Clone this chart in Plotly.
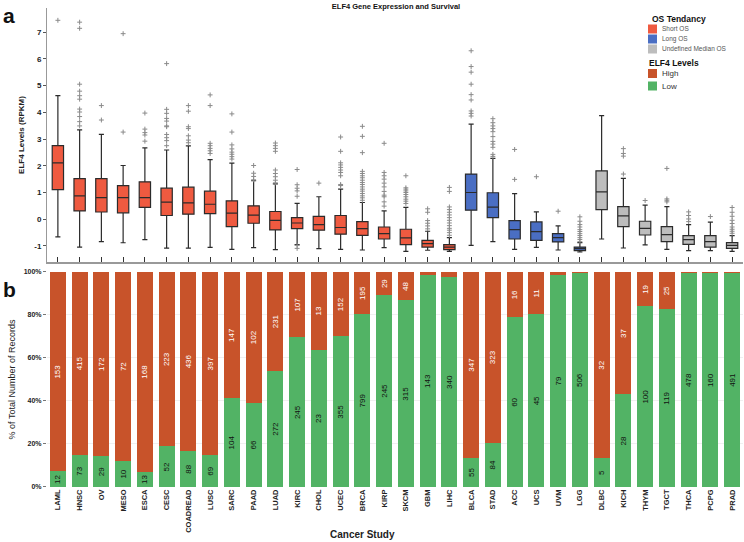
import plotly.graph_objects as go

categories = ["LAML", "HNSC", "OV", "MESO", "ESCA", "CESC", "COADREAD", "LUSC", "SARC", "PAAD",
              "LUAD", "KIRC", "CHOL", "UCEC", "BRCA", "KIRP", "SKCM", "GBM", "LIHC", "BLCA",
              "STAD", "ACC", "UCS", "UVM", "LGG", "DLBC", "KICH", "THYM", "TGCT", "THCA",
              "PCPG", "PRAD"]
os_group = ["Short OS"] * 19 + ["Long OS"] * 6 + ["Undefined Median OS"] * 7

lower_fence = [-0.66, -1.04, -0.84, -0.88, -0.76, -1.08, -1.08, -1.05, -1.125, -1.06,
               -1.14, -0.95, -1.1, -1.125, -1.15, -1.06, -1.2, -1.16, -1.2, -0.975,
               -0.84, -1.125, -1.05, -1.15, -1.225, -0.74, -1.075, -0.96, -1.125, -1.175,
               -1.175, -1.2]
q1 = [1.11, 0.31, 0.27, 0.24, 0.44, 0.14, 0.19, 0.21, -0.275, -0.15,
      -0.4, -0.35, -0.41, -0.56, -0.6, -0.74, -0.95, -1.04, -1.14, 0.34,
      0.06, -0.74, -0.79, -0.85, -1.175, 0.36, -0.275, -0.59, -0.84, -0.94,
      -1.04, -1.09]
median = [2.11, 0.875, 0.81, 0.81, 0.81, 0.64, 0.61, 0.56, 0.225, 0.15,
          -0.04, -0.14, -0.2, -0.31, -0.35, -0.54, -0.7, -0.91, -1.04, 1.0,
          0.45, -0.39, -0.46, -0.69, -1.1, 1.025, 0.125, -0.34, -0.575, -0.76,
          -0.84, -0.975]
q3 = [2.75, 1.52, 1.52, 1.26, 1.40, 1.16, 1.20, 1.05, 0.69, 0.5,
      0.29, 0.06, 0.11, 0.14, -0.09, -0.29, -0.375, -0.79, -0.95, 1.69,
      0.99, -0.05, -0.1, -0.54, -1.04, 1.81, 0.475, -0.075, -0.275, -0.61,
      -0.61, -0.875]
upper_fence = [4.62, 3.34, 3.17, 2.01, 2.67, 2.59, 2.74, 2.23, 2.1, 1.44,
               1.325, 0.59, 0.84, 1.125, 0.625, 0.31, 0.44, -0.45, -0.69, 3.56,
               2.275, 0.96, 0.275, -0.25, -0.875, 3.875, 1.525, 0.525, 0.475, -0.2,
               -0.11, -0.61]
outliers = [
    [7.44],
    [7.37, 7.14, 5.05, 4.79, 4.62, 4.49, 4.12, 4.01, 3.84, 3.65, 3.49],
    [4.25, 3.71],
    [6.94, 3.26],
    [3.97, 3.37, 3.24, 3.15, 2.92],
    [5.82, 4.11, 3.96, 3.77, 3.67, 3.49, 3.46, 3.17, 3.05, 2.94, 2.75],
    [4.25, 4.04, 3.46, 3.39, 3.12, 2.96, 2.86],
    [4.65, 4.25, 2.84, 2.75, 2.65, 2.56, 2.46],
    [3.94, 3.26, 2.78, 2.63, 2.51, 2.43, 2.34, 2.25],
    [2.01, 1.72, 1.6, 1.475],
    [2.85, 2.75, 2.65, 2.54, 1.84, 1.71, 1.59, 1.46, 1.36],
    [1.86, 1.29, 1.16, 1.06, 0.86, -0.975, -1.09],
    [1.35],
    [3.075, 2.54, 2.11, 2.03, 1.94, 1.84, 1.75, 1.625, 1.3, 1.26],
    [3.475, 3.1, 2.49, 1.79, 1.71, 1.625, 1.55, 1.46, 1.375, 1.3, 1.21, 1.125, 1.05, 0.96, 0.875, 0.8, 0.71],
    [2.84, 1.75, 1.625, 1.5, 1.35, 1.21, 1.04, 0.9, 0.84, 0.65, 0.49],
    [1.625, 1.175, 1.125, 1.06, 1.0, 0.925, 0.84, 0.75, 0.675, 0.59],
    [0.39, 0.26, -0.05, -0.15, -0.25, -0.36],
    [1.19, 1.04, 0.46, 0.36, 0.26, 0.16, 0.06, -0.04, -0.14, -0.24, -0.34, -0.41, -0.5, -0.6],
    [6.3, 5.71, 5.5, 5.05, 4.66, 4.46, 4.05, 3.96, 3.86],
    [3.76, 3.61, 3.49, 3.39, 3.275, 3.09, 2.91, 2.81, 2.69, 2.425, 2.35],
    [2.61, 1.49],
    [1.59],
    [0.3],
    [0.09, -0.075, -0.2, -0.29, -0.39, -0.46, -0.54, -0.61, -0.69, -0.76, -0.84],
    [],
    [2.64, 2.46, 2.36, 1.69],
    [0.7],
    [1.9, 0.76, 0.71, 0.65],
    [0.275, 0.14, 0.01, -0.09],
    [0.1],
    [0.44, 0.26, 0.11, -0.04, -0.16, -0.29, -0.375, -0.45, -0.525],
]

high_counts = [153, 415, 172, 72, 168, 223, 436, 397, 147, 102, 231, 107, 13, 152, 195, 29,
               48, 2, 8, 347, 323, 16, 11, 1, 3, 32, 37, 19, 25, 2, 1, 2]
low_counts = [12, 73, 29, 10, 13, 52, 88, 69, 104, 66, 272, 245, 23, 355, 799, 245,
              315, 143, 340, 55, 84, 60, 45, 79, 506, 5, 28, 100, 119, 478, 160, 491]

y_ticks_a = [-1, 0, 1, 2, 3, 4, 5, 6, 7]
y_ticks_b = [0, 20, 40, 60, 80, 100]

group_colors = {"Short OS": "#EF5A40", "Long OS": "#4A6EC3", "Undefined Median OS": "#BDBDBD"}
level_colors = {"High": "#C8532A", "Low": "#52B365"}
FONT = "Liberation Sans, Arial, sans-serif"

fig = go.Figure()

# Box plots (panel a)
for g in ["Short OS", "Long OS", "Undefined Median OS"]:
    idx = [i for i, v in enumerate(os_group) if v == g]
    fig.add_trace(go.Box(
        x=[categories[i] for i in idx],
        q1=[q1[i] for i in idx], median=[median[i] for i in idx], q3=[q3[i] for i in idx],
        lowerfence=[lower_fence[i] for i in idx], upperfence=[upper_fence[i] for i in idx],
        boxpoints=False, fillcolor=group_colors[g], line=dict(color="#2b2b2b", width=1.2),
        width=0.52, whiskerwidth=0.45, showlegend=False, hoverinfo="skip",
        xaxis="x", yaxis="y"))

ox, oy = [], []
for c, vals in zip(categories, outliers):
    for v in vals:
        ox.append(c)
        oy.append(v)
fig.add_trace(go.Scatter(x=ox, y=oy, mode="markers", showlegend=False, hoverinfo="skip",
                         marker=dict(symbol="cross-thin", size=3.5, line=dict(color="#8a8a8a", width=1)),
                         xaxis="x", yaxis="y"))

# Stacked percentage bars (panel b)
def labels(own, other):
    return [str(a) if a / (a + b) >= 0.04 else "" for a, b in zip(own, other)]

fig.add_trace(go.Bar(x=categories, y=low_counts, name="Low", showlegend=False,
                     marker=dict(color=level_colors["Low"], line=dict(width=0)),
                     text=labels(low_counts, high_counts), textposition="inside", insidetextanchor="middle",
                     textangle=-90, textfont=dict(size=8, color="#111", family=FONT),
                     xaxis="x2", yaxis="y2", hoverinfo="skip"))
fig.add_trace(go.Bar(x=categories, y=high_counts, name="High", showlegend=False,
                     marker=dict(color=level_colors["High"], line=dict(width=0)),
                     text=labels(high_counts, low_counts), textposition="inside", insidetextanchor="middle",
                     textangle=-90, textfont=dict(size=8, color="white", family=FONT),
                     xaxis="x2", yaxis="y2", hoverinfo="skip"))

# Manual legend (paper coordinates; plot area is 696 x 479 px, origin at px (47, 487))
def px_x(p):
    return (p - 47) / 696.0


def px_y(p):
    return (487 - p) / 479.0


shapes = []
annotations = []
legend_items = [
    ("OS Tendancy", None, 19, 8.5, None),
    ("Short OS", group_colors["Short OS"], 29, 6.5, "#555"),
    ("Long OS", group_colors["Long OS"], 39, 6.5, "#555"),
    ("Undefined Median OS", group_colors["Undefined Median OS"], 49, 6.5, "#555"),
    ("ELF4 Levels", None, 63, 8.5, None),
    ("High", level_colors["High"], 73.5, 8, "#333"),
    ("Low", level_colors["Low"], 86, 8, "#333"),
]
for text, color, cy, fs, fc in legend_items:
    if color is None:
        annotations.append(dict(text="<b>" + text + "</b>", xref="paper", yref="paper",
                                x=px_x(650 if text == "OS Tendancy" else 647), y=px_y(cy),
                                xanchor="left", yanchor="middle", showarrow=False,
                                font=dict(size=fs, color="#111")))
    else:
        shapes.append(dict(type="rect", xref="paper", yref="paper",
                           x0=px_x(648), x1=px_x(657), y0=px_y(cy + 4.5), y1=px_y(cy - 4.5),
                           fillcolor=color, line=dict(width=0)))
        annotations.append(dict(text=text, xref="paper", yref="paper", x=px_x(660), y=px_y(cy),
                                xanchor="left", yanchor="middle", showarrow=False,
                                font=dict(size=fs, color=fc)))

annotations += [
    dict(text="<b>a</b>", xref="paper", yref="paper", x=px_x(9), y=px_y(16), xanchor="center", yanchor="middle",
         showarrow=False, font=dict(size=21, color="#111")),
    dict(text="<b>b</b>", xref="paper", yref="paper", x=px_x(9), y=px_y(289), xanchor="center", yanchor="middle",
         showarrow=False, font=dict(size=21, color="#111")),
    dict(text="<b>Cancer Study</b>", xref="paper", yref="paper", x=px_x(362), y=px_y(534),
         xanchor="center", yanchor="middle", showarrow=False, font=dict(size=10, color="#222")),
]

fig.update_layout(
    width=744, height=542,
    margin=dict(l=47, r=1, t=8, b=55),
    paper_bgcolor="white", plot_bgcolor="white",
    font=dict(family=FONT, size=8, color="#222"),
    boxmode="overlay", barmode="stack", barnorm="percent", bargap=0.26,
    showlegend=False,
    title=dict(text="<b>ELF4 Gene Expression and Survival</b>", x=396 / 744.0,
               xanchor="center", y=0.993, yanchor="top", font=dict(size=7.5, color="#111")),
    xaxis=dict(domain=[0, 1], anchor="y", type="category", categoryorder="array", categoryarray=categories,
               range=[-0.5, 31.5], showticklabels=False, ticks="inside", ticklen=5, tickcolor="#333",
               showline=True, linecolor="#999", linewidth=2, showgrid=False, zeroline=False),
    yaxis=dict(domain=[0.4697, 1], anchor="x", range=[-1.6, 7.9], tickvals=y_ticks_a,
               ticktext=["<b>%d</b>" % v for v in y_ticks_a],
               ticks="outside", ticklen=3, tickcolor="#555", showline=True, linecolor="#999", linewidth=1,
               showgrid=False, zeroline=False, tickfont=dict(size=8, color="#222"),
               title=dict(text="<b>ELF4 Levels (RPKM)</b>", font=dict(size=8, color="#222"), standoff=8)),
    xaxis2=dict(domain=[0, 1], anchor="y2", type="category", categoryorder="array", categoryarray=categories,
                range=[-0.5, 31.5], tickangle=-90, ticks="", showline=False, showgrid=False,
                tickvals=categories, ticktext=["<b>%s</b>" % c for c in categories],
                tickfont=dict(size=7.5, color="#222")),
    yaxis2=dict(domain=[0, 0.4489], anchor="x2", range=[0, 100], tickvals=y_ticks_b,
                ticktext=["<b>%d%%</b>" % v for v in y_ticks_b],
                ticks="outside", ticklen=3, tickcolor="#777", showline=False, showgrid=True,
                gridcolor="#f0f0f0", zeroline=False, tickfont=dict(size=7, color="#222"),
                title=dict(text="% of Total Number of Records", font=dict(size=9, color="#222"), standoff=6)),
    shapes=shapes,
    annotations=annotations,
)

fig.write_html("out.html", config={"displayModeBar": False, "staticPlot": True},
               post_script="document.body.style.margin='0';document.body.style.overflow='hidden';")
